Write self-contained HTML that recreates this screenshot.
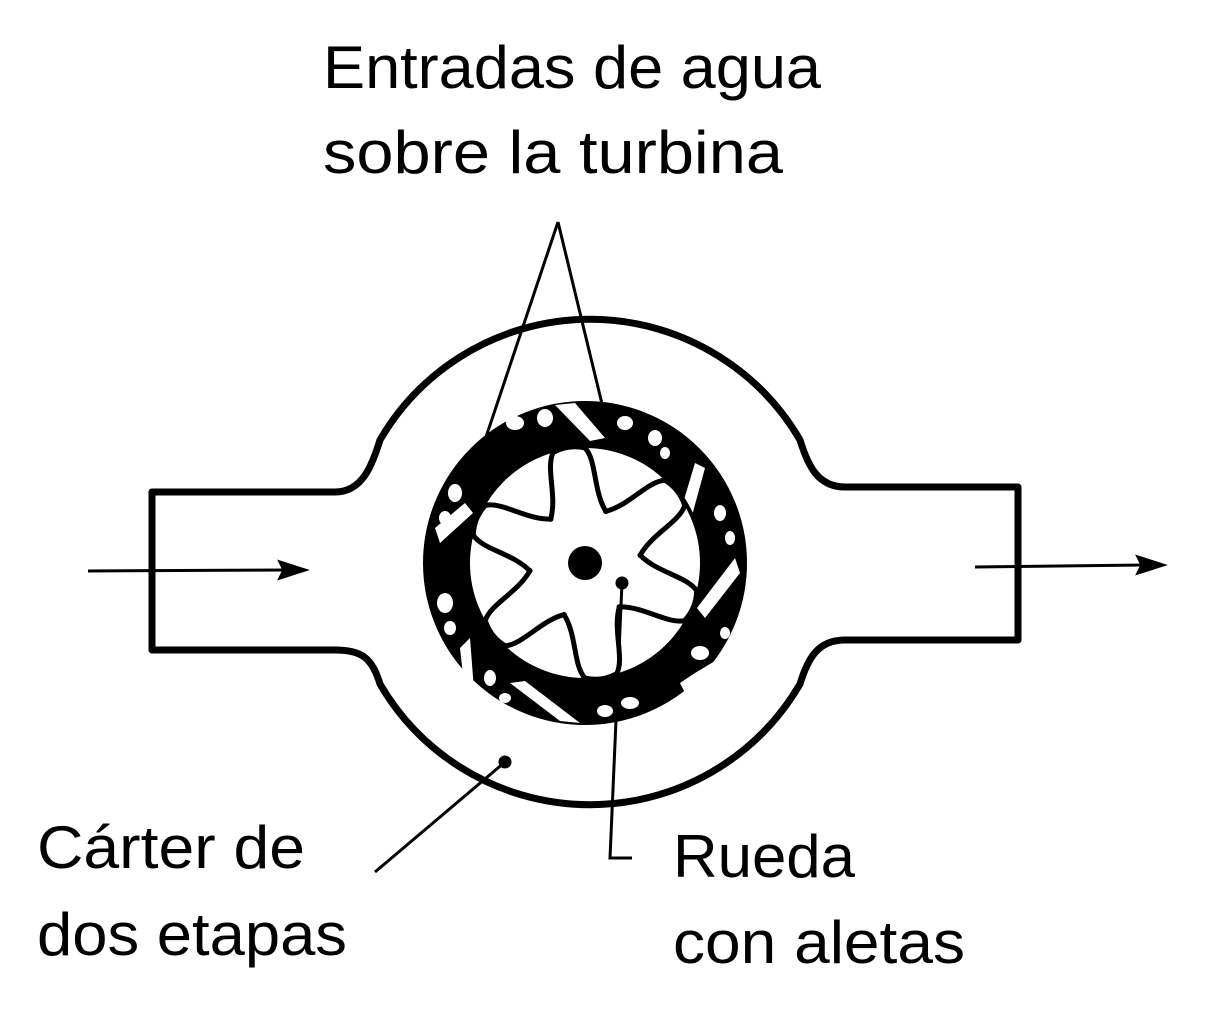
<!DOCTYPE html>
<html><head><meta charset="utf-8"><style>
html,body{margin:0;padding:0;background:#fff;}
svg{display:block}
text{font-family:"Liberation Sans","DejaVu Sans",sans-serif;font-size:60px;fill:#000}
</style></head><body>
<svg width="1214" height="1024" viewBox="0 0 1214 1024" xmlns="http://www.w3.org/2000/svg">
<text x="323" y="88" textLength="498" lengthAdjust="spacingAndGlyphs">Entradas de agua</text>
<text x="323" y="173" textLength="460" lengthAdjust="spacingAndGlyphs">sobre la turbina</text>
<text x="37" y="868" textLength="268" lengthAdjust="spacingAndGlyphs">Cárter de</text>
<text x="37" y="955" textLength="310" lengthAdjust="spacingAndGlyphs">dos etapas</text>
<text x="673" y="877" textLength="182" lengthAdjust="spacingAndGlyphs">Rueda</text>
<text x="673" y="963" textLength="292" lengthAdjust="spacingAndGlyphs">con aletas</text>

<path d="M152,492 L335,492 C362,492 372,466 380,440 A243 243 0 0 1 800,440 C808,466 818,487 845,487 L1018,487 L1018,640 L845,640 C818,640 808,658 800,684 A243 243 0 0 1 380,684 C372,658 362,650 335,650 L152,650 Z" fill="none" stroke="#000" stroke-width="7" stroke-linejoin="round"/>

<g stroke="#000" stroke-width="3" fill="#000">
<line x1="88" y1="571" x2="290" y2="570"/>
<path d="M305,570 L280,562 L284,570 L280,578 Z"/>
<line x1="975" y1="567" x2="1148" y2="565"/>
<path d="M1163,565 L1138,557 L1142,565 L1138,573 Z"/>
<line x1="558" y1="222" x2="485" y2="440"/>
<line x1="558" y1="222" x2="603" y2="408"/>
<line x1="375" y1="872" x2="505" y2="762"/>
<circle cx="505" cy="762" r="5"/>
<polyline points="622,583 610,858 632,858" fill="none"/>
<circle cx="622" cy="583" r="5"/>
</g>

<g transform="translate(585,563)">
<circle r="140" fill="none" stroke="#000" stroke-width="44"/>
<g fill="#fff">
<polygon points="-150,-35 -120,-60 -112,-50 -145,-20"/>
<polygon points="-30,-158 -10,-160 20,-125 5,-122"/>
<polygon points="110,-100 120,-95 105,-40 95,-50"/>
<polygon points="150,-5 155,10 120,55 112,45"/>
<polygon points="95,120 110,110 135,95 100,130"/>
<polygon points="-5,160 -25,158 -75,120 -60,118"/>
<polygon points="-125,85 -115,75 -110,140 -120,130"/>
<ellipse cx="-70" cy="-140" rx="9" ry="7"/>
<ellipse cx="-40" cy="-145" rx="8" ry="9"/>
<ellipse cx="40" cy="-140" rx="8" ry="7"/>
<ellipse cx="70" cy="-125" rx="7" ry="8"/>
<ellipse cx="80" cy="-110" rx="5" ry="6"/>
<ellipse cx="-130" cy="-70" rx="7" ry="9"/>
<ellipse cx="-140" cy="-45" rx="6" ry="7"/>
<ellipse cx="-140" cy="40" rx="8" ry="10"/>
<ellipse cx="-135" cy="65" rx="6" ry="7"/>
<ellipse cx="135" cy="-50" rx="6" ry="8"/>
<ellipse cx="145" cy="-25" rx="5" ry="7"/>
<ellipse cx="115" cy="90" rx="9" ry="7"/>
<ellipse cx="140" cy="70" rx="5" ry="6"/>
<ellipse cx="20" cy="148" rx="8" ry="6"/>
<ellipse cx="45" cy="140" rx="9" ry="6"/>
<ellipse cx="-95" cy="115" rx="6" ry="8"/>
<ellipse cx="-80" cy="135" rx="6" ry="5"/>
</g>
<circle r="117" fill="none" stroke="#000" stroke-width="4"/>
<g fill="none" stroke="#000" stroke-width="5" stroke-linejoin="round" stroke-linecap="round" transform="rotate(-8)">
<path id="arm" d="M-28,-48 C-18,-70 -26,-100 -16,-114 Q0,-120 16,-114 C26,-100 18,-70 28,-48"/>
<use href="#arm" transform="rotate(60)"/>
<use href="#arm" transform="rotate(120)"/>
<use href="#arm" transform="rotate(180)"/>
<use href="#arm" transform="rotate(240)"/>
<use href="#arm" transform="rotate(300)"/>
</g>
<circle r="17" fill="#000"/>
</g>
</svg>
</body></html>
